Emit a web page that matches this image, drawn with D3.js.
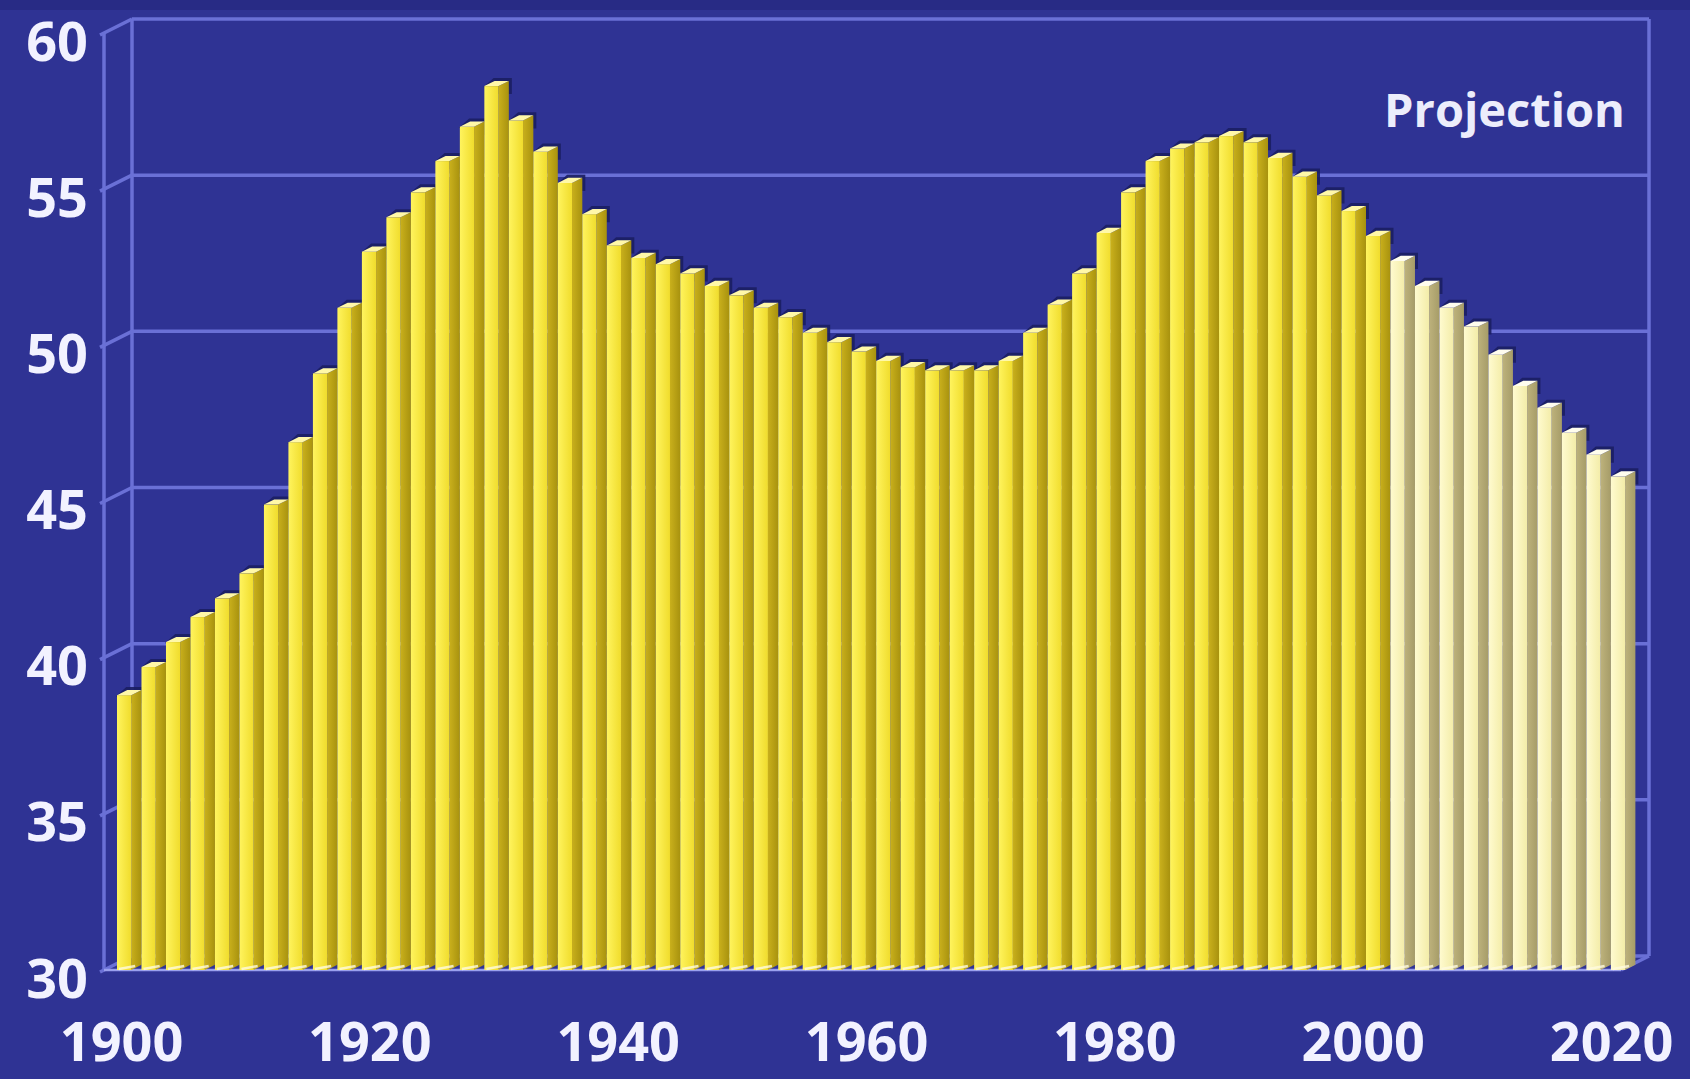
<!DOCTYPE html>
<html>
<head>
<meta charset="utf-8">
<script src="https://cdn.jsdelivr.net/npm/d3@7"></script>
<style>
  html, body { margin: 0; padding: 0; background: #2f3394; }
  svg { display: block; }
</style>
</head>
<body>
<svg id="chart" width="1690" height="1079"></svg>
<script>
// ---- data ----
const years = [1900,1902,1904,1906,1908,1910,1912,1914,1916,1918,
               1920,1922,1924,1926,1928,1930,1932,1934,1936,1938,
               1940,1942,1944,1946,1948,1950,1952,1954,1956,1958,
               1960,1962,1964,1966,1968,1970,1972,1974,1976,1978,
               1980,1982,1984,1986,1988,1990,1992,1994,1996,1998,
               2000,2002,2004,2006,2008,2010,2012,2014,2016,2018,
               2020,2022];
const values = [38.8,39.7,40.5,41.3,41.9,42.7,44.9,46.9,49.1,51.2,
                53.0,54.1,54.9,55.9,57.0,58.3,57.2,56.2,55.2,54.2,
                53.2,52.8,52.6,52.3,51.9,51.6,51.2,50.9,50.4,50.1,
                49.8,49.5,49.3,49.2,49.2,49.2,49.5,50.4,51.3,52.3,
                53.6,54.9,55.9,56.3,56.5,56.7,56.5,56.0,55.4,54.8,
                54.3,53.5,52.7,51.9,51.2,50.6,49.7,48.7,48.0,47.2,
                46.5,45.8];
const projectionFrom = 2004;
const yTicks = [30,35,40,45,50,55,60];
const xTicks = [1900,1920,1940,1960,1980,2000,2020];
const annotation = "Projection";

// ---- layout ----
const svg = d3.select("#chart");
const bg = "#2f3394";
const gridColor = "#6a70d6";
const depthX = 28, depthY = -14;

const y = d3.scaleLinear().domain([30, 60]).range([970, 33]);
const xBand = d3.scaleBand().domain(years).range([117, 117 + 62 * 24.49]).padding(0);
const xLab = d3.scaleLinear().domain([1900, 2020]).range([121, 1611]);

const frontX = 104, backX0 = frontX + depthX, backX1 = 1649;

svg.append("rect").attr("width", 1690).attr("height", 1079).attr("fill", bg);
svg.append("rect").attr("width", 1690).attr("height", 10).attr("fill", "#282b85");

// back wall grid
const grid = svg.append("g").attr("stroke", gridColor).attr("stroke-width", 3.5).attr("fill", "none");
grid.selectAll("line.h").data(yTicks).join("line").attr("class", "h")
  .attr("x1", backX0).attr("x2", backX1)
  .attr("y1", d => y(d) + depthY).attr("y2", d => y(d) + depthY);
grid.selectAll("line.d").data(yTicks).join("line").attr("class", "d")
  .attr("x1", frontX - 4).attr("x2", backX0)
  .attr("y1", d => y(d) + 2).attr("y2", d => y(d) + depthY);
grid.append("line").attr("x1", backX0).attr("x2", backX0)
  .attr("y1", y(60) + depthY).attr("y2", y(30) + depthY);
grid.append("line").attr("x1", backX1).attr("x2", backX1)
  .attr("y1", y(60) + depthY).attr("y2", y(30) + depthY);
grid.append("line").attr("x1", frontX).attr("x2", frontX)
  .attr("y1", y(60)).attr("y2", y(30));
// floor edges
grid.append("line").attr("x1", frontX).attr("x2", backX1 - depthX)
  .attr("y1", y(30)).attr("y2", y(30)).attr("stroke", "#9aa0ee").attr("stroke-width", 2.5);
grid.append("line").attr("x1", backX1 - depthX).attr("x2", backX1)
  .attr("y1", y(30)).attr("y2", y(30) + depthY);

// gradients
const defs = svg.append("defs");
function grad(id, c1, c2) {
  const g = defs.append("linearGradient").attr("id", id).attr("x1", 0).attr("x2", 1).attr("y1", 0).attr("y2", 0);
  g.append("stop").attr("offset", 0).attr("stop-color", c1);
  g.append("stop").attr("offset", 1).attr("stop-color", c2);
}
grad("faceA", "#fff45e", "#f0dc2c");
grad("sideA", "#c9b01c", "#a8920e");
grad("faceP", "#fffbd0", "#f3eca8");
grad("sideP", "#bdb27c", "#a69c68");

const data = years.map((yr, i) => ({ year: yr, value: values[i], proj: yr >= projectionFrom }));
const bw = xBand.bandwidth();
const fw = bw * 0.58;
const dx = bw - fw, dy = dx / 2;
const base = y(30);

const pts = a => a.map(p => p.join(",")).join(" ");

// shadows
svg.append("g").selectAll("polygon").data(data).join("polygon")
  .attr("fill", "#1b1e62").attr("opacity", 0.9)
  .attr("points", d => {
    const xL = xBand(d.year), xR = xL + fw, t = y(d.value);
    return pts([[xL - 1, t + 1], [xL + dx - 1, t - dy - 3], [xR + dx + 3, t - dy - 3], [xR + dx + 3, t + 8], [xR, t + 8]]);
  });

const bars = svg.append("g").selectAll("g").data(data).join("g");
bars.append("polygon")
  .attr("fill", d => d.proj ? "url(#sideP)" : "url(#sideA)")
  .attr("points", d => {
    const xL = xBand(d.year), xR = xL + fw, t = y(d.value);
    return pts([[xR, t], [xR + dx, t - dy], [xR + dx, base - dy], [xR, base]]);
  });
bars.append("rect")
  .attr("x", d => xBand(d.year)).attr("width", fw)
  .attr("y", d => y(d.value)).attr("height", d => base - y(d.value))
  .attr("fill", d => d.proj ? "url(#faceP)" : "url(#faceA)");
bars.append("polygon")
  .attr("fill", d => d.proj ? "#fffdee" : "#fff8a8")
  .attr("points", d => {
    const xL = xBand(d.year), xR = xL + fw, t = y(d.value);
    return pts([[xL, t], [xR, t], [xR + dx, t - dy], [xL + dx, t - dy]]);
  });
// floor highlight at bar bottoms
bars.append("line")
  .attr("x1", d => xBand(d.year) + 2).attr("x2", d => xBand(d.year) + fw + 4)
  .attr("y1", base - 1).attr("y2", base - 4)
  .attr("stroke", "#fffbe0").attr("stroke-width", 2.5).attr("opacity", 0.8);

// axes
const font = "'Open Sans', 'DejaVu Sans', sans-serif";
const yAxis = svg.append("g").attr("transform", "translate(88,0)")
  .call(d3.axisLeft(y).tickValues(yTicks).tickSize(0).tickPadding(0).tickFormat(d3.format("d")));
yAxis.select(".domain").remove();
yAxis.selectAll("text").attr("dy", null).attr("y", 27)
  .attr("fill", "#f2f2ff").attr("font-family", font).attr("font-weight", 700).attr("font-size", 54);

const xAxis = svg.append("g").attr("transform", "translate(0,1061)")
  .call(d3.axisBottom(xLab).tickValues(xTicks).tickSize(0).tickPadding(0).tickFormat(d3.format("d")));
xAxis.select(".domain").remove();
xAxis.selectAll("text").attr("dy", null).attr("y", 0)
  .attr("fill", "#f2f2ff").attr("font-family", font).attr("font-weight", 700).attr("font-size", 54);

svg.append("text").attr("x", 1625).attr("y", 127).attr("text-anchor", "end")
  .attr("fill", "#ecedfb").attr("font-family", font).attr("font-weight", 700).attr("font-size", 47)
  .text(annotation);
</script>
</body>
</html>
